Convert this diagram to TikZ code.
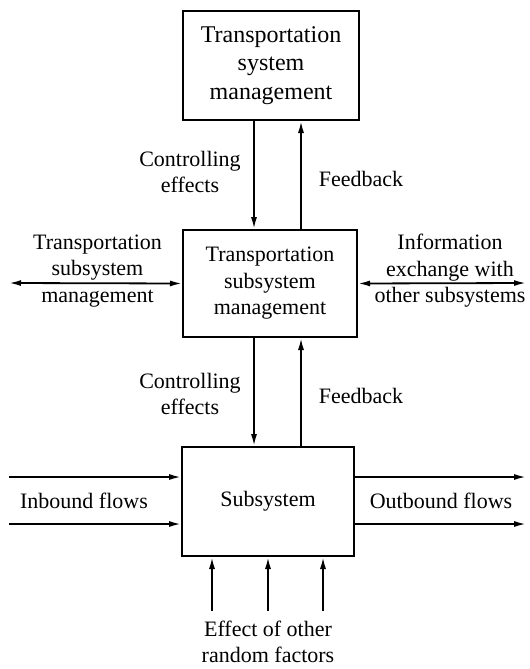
\documentclass[tikz,border=0pt]{standalone}
\usepackage{fontspec}
\setmainfont{Liberation Serif}
\usetikzlibrary{arrows.meta}
\begin{document}
\begin{tikzpicture}[x=1bp,y=-1bp,
  box/.style={draw,line width=2bp,align=center,inner sep=0pt},
  lbl/.style={align=center,inner sep=0pt},
  arr/.style={line width=1.8bp,-{Latex[length=12bp,width=6bp]}},
  darr/.style={line width=1.8bp,{Latex[length=12bp,width=6bp]}-{Latex[length=12bp,width=6bp]}},
  every node/.style={font=\fontsize{22bp}{26.5bp}\selectfont}]
\useasboundingbox (0,0) rectangle (530,669);
\node[box,minimum width=176bp,minimum height=109bp,font=\fontsize{24bp}{28.5bp}\selectfont] (top) at (271,65.5) {Transportation\\system\\management};
\node[box,minimum width=174bp,minimum height=107bp] (mid) at (270,283.5) {Transportation\\subsystem\\management};
\node[box,minimum width=172bp,minimum height=109bp] (bot) at (268,501.5) {Subsystem};
% vertical connectors
\coordinate (c1) at (254,0);
\coordinate (f1) at (301,0);
\draw[arr] (top.south -| c1) -- (mid.north -| c1);
\draw[arr] (mid.north -| f1) -- (top.south -| f1);
\draw[arr] (mid.south -| c1) -- (bot.north -| c1);
\draw[arr] (bot.north -| f1) -- (mid.south -| f1);
\node[lbl] (ce1) at (190,172) {Controlling\\effects};
\node[lbl] (fb1) at (361,179) {Feedback};
\node[lbl] (ce2) at (190,394) {Controlling\\effects};
\node[lbl] (fb2) at (361,396) {Feedback};
% side double arrows
\coordinate (L) at (9,283);
\coordinate (R) at (526,283);
\draw[darr] (L) -- (mid.west);
\draw[darr] (mid.east) -- (R);
\node[lbl] (tsm) at (97.5,271) {Transportation\\subsystem\\management};
\node[lbl] (iex) at (450,271) {Information\\exchange with\\other subsystems};
% flows
\coordinate (i1) at (9,477);
\coordinate (i2) at (9,524);
\coordinate (o1) at (526,477);
\coordinate (o2) at (526,524);
\draw[arr] (i1) -- (bot.west |- i1);
\draw[arr] (i2) -- (bot.west |- i2);
\draw[arr] (bot.east |- o1) -- (o1);
\draw[arr] (bot.east |- o2) -- (o2);
\node[lbl] (inb) at (84,501) {Inbound flows};
\node[lbl] (outb) at (441,501) {Outbound flows};
% random factors
\coordinate (r1) at (212,611);
\coordinate (r2) at (268,611);
\coordinate (r3) at (323,611);
\draw[arr] (r1) -- (bot.south -| r1);
\draw[arr] (r2) -- (bot.south -| r2);
\draw[arr] (r3) -- (bot.south -| r3);
\node[lbl] (eff) at (268,642) {Effect of other\\random factors};
\end{tikzpicture}
\end{document}
